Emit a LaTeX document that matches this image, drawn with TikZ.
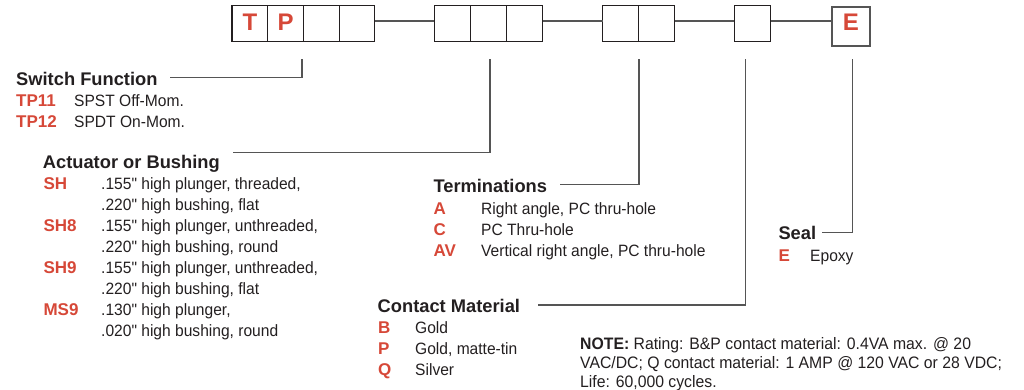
\documentclass[tikz,border=0pt]{standalone}
\usepackage{fontspec}
\setmainfont{Liberation Sans}
\newfontfamily\condf[FakeStretch=0.95]{Liberation Sans}
\definecolor{codered}{RGB}{214,72,56}
\definecolor{ink}{RGB}{35,31,32}
\definecolor{leadgray}{RGB}{85,85,85}
\tikzset{
  cell/.style={draw=ink, line width=1.2pt, minimum height=36.4pt, inner sep=0pt, outer sep=0pt, anchor=north west},
  ebox/.style={draw=leadgray, line width=1.7pt, minimum width=38.3pt, minimum height=38.4pt, inner sep=0pt, outer sep=0pt, anchor=north west},
  bigcode/.style={text=codered, font=\bfseries\fontsize{24}{24}\selectfont},
  rowline/.style={draw=leadgray, line width=1.6pt},
  lead/.style={draw=leadgray, line width=1.5pt},
  head/.style={anchor=base west, inner sep=0pt, text=ink, font=\bfseries\fontsize{18.3}{20}\selectfont},
  code/.style={anchor=base west, inner sep=0pt, text=codered, font=\bfseries\fontsize{17}{20}\selectfont},
  desc/.style={anchor=base west, inner sep=0pt, text=ink, font=\condf\fontsize{16.4}{20}\selectfont},
  notetext/.style={anchor=base west, inner sep=0pt, text=ink, font=\condf\fontsize{16.6}{20}\selectfont}
}
\begin{document}
\begin{tikzpicture}[x=1pt,y=-1pt]
\useasboundingbox (0,0) rectangle (1024,389);
% top row of boxes
\node[cell, minimum width=35.7pt] (b1) at (232,5.3) {};
\node[cell, minimum width=35.7pt] (b2) at (267.7,5.3) {};
\node[cell, minimum width=35.7pt] (b3) at (303.4,5.3) {};
\node[cell, minimum width=35.7pt] (b4) at (339.1,5.3) {};
\node[cell, minimum width=36.1pt] (b5) at (434.3,5.3) {};
\node[cell, minimum width=36.1pt] (b6) at (470.4,5.3) {};
\node[cell, minimum width=36.1pt] (b7) at (506.5,5.3) {};
\node[cell, minimum width=36pt] (b8) at (602.7,5.3) {};
\node[cell, minimum width=36pt] (b9) at (638.7,5.3) {};
\node[cell, minimum width=36.4pt] (b10) at (734.3,5.3) {};
\node[ebox] (b11) at (831.7,7.3) {};
\node[bigcode] (tT) at ([yshift=1.5pt]b1.center) {T};
\node[bigcode] (tP) at ([yshift=1.5pt]b2.center) {P};
\node[bigcode] (tE) at ([yshift=4pt]b11.center) {E};
\draw[rowline] ([yshift=2.8pt]b4.east) -- ([yshift=2.8pt]b5.west);
\draw[rowline] ([yshift=2.8pt]b7.east) -- ([yshift=2.8pt]b8.west);
\draw[rowline] ([yshift=2.8pt]b9.east) -- ([yshift=2.8pt]b10.west);
\draw[rowline] ([yshift=2.8pt]b10.east) coordinate (r4) -- (r4 -| b11.west);
% leader coordinates
\coordinate (sftop) at (302,59.3);  \coordinate (sfend) at (170,77.5);
\coordinate (abtop) at (490,59.3);  \coordinate (abend) at (232.7,152.5);
\coordinate (tmtop) at (639,59.3);  \coordinate (tmend) at (560,184.5);
\coordinate (cmtop) at (745.3,59.3); \coordinate (cmend) at (538,305);
\coordinate (sltop) at (852.3,59.3); \coordinate (slend) at (821.7,232.5);
\draw[lead] (sftop) |- (sfend);
\draw[lead] (abtop) |- (abend);
\draw[lead] (tmtop) |- (tmend);
\draw[lead] (cmtop) |- (cmend);
\draw[lead] (sltop) |- (slend);
% Switch Function
\node[head] (hsf) at (16,85) {Switch Function};
\node[code] (c1) at (16,106.7) {TP11};
\node[desc] (d1) at (74,106.7) {SPST Off-Mom.};
\node[code] (c2) at (16,127.7) {TP12};
\node[desc] (d2) at (74,127.7) {SPDT On-Mom.};
% Actuator or Bushing
\node[head] (hab) at (42.7,168.3) {Actuator or Bushing};
\node[code] (c3) at (43.3,189) {SH};
\node[desc] (d3) at (101,189) {.155" high plunger, threaded,};
\node[desc] (d3b) at (101,210) {.220" high bushing, flat};
\node[code] (c4) at (43.3,231) {SH8};
\node[desc] (d4) at (101,231) {.155" high plunger, unthreaded,};
\node[desc] (d4b) at (101,252) {.220" high bushing, round};
\node[code] (c5) at (43.3,273) {SH9};
\node[desc] (d5) at (101,273) {.155" high plunger, unthreaded,};
\node[desc] (d5b) at (101,294) {.220" high bushing, flat};
\node[code] (c6) at (43.3,315) {MS9};
\node[desc] (d6) at (101,315) {.130" high plunger,};
\node[desc] (d6b) at (101,336) {.020" high bushing, round};
% Terminations
\node[head] (htm) at (433.3,192.7) {Terminations};
\node[code] (c7) at (433.3,214.3) {A};
\node[desc] (d7) at (481,214.3) {Right angle, PC thru-hole};
\node[code] (c8) at (433.3,235) {C};
\node[desc] (d8) at (481,235) {PC Thru-hole};
\node[code] (c9) at (433.3,256) {AV};
\node[desc] (d9) at (481,256) {Vertical right angle, PC thru-hole};
% Contact Material
\node[head] (hcm) at (377.5,312) {Contact Material};
\node[code] (c10) at (378,333) {B};
\node[desc] (d10) at (415,333) {Gold};
\node[code] (c11) at (378,354) {P};
\node[desc] (d11) at (415,354) {Gold, matte-tin};
\node[code] (c12) at (378,375) {Q};
\node[desc] (d12) at (415,375) {Silver};
% Seal
\node[head] (hsl) at (778.3,239) {Seal};
\node[code] (c13) at (778.3,261) {E};
\node[desc] (d13) at (810,261) {Epoxy};
% Note
\node[notetext] (n1) at (580,349) {\bfseries NOTE:\mdseries{} Rating: B\&P contact material: 0.4VA max. @ 20};
\node[notetext] (n2) at (580,368.5) {VAC/DC; Q contact material: 1 AMP @ 120 VAC or 28 VDC;};
\node[notetext] (n3) at (580,387) {Life: 60,000 cycles.};
\end{tikzpicture}
\end{document}
